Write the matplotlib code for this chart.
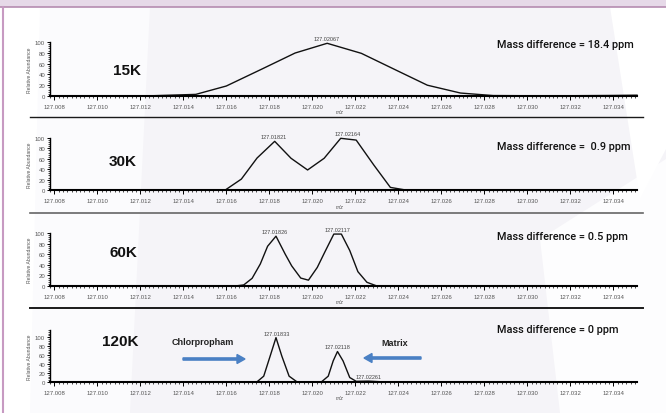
import matplotlib
matplotlib.use("Agg")
import matplotlib.pyplot as plt
from matplotlib.ticker import AutoMinorLocator
from matplotlib.patches import Polygon, FancyArrow
from matplotlib.lines import Line2D

plt.rcParams['font.family'] = ['Liberation Sans', 'DejaVu Sans']

# ---------------- data ----------------
resolutions = ["15K", "30K", "60K", "120K"]
mass_diff = ["Mass difference = 18.4 ppm", "Mass difference =  0.9 ppm",
             "Mass difference = 0.5 ppm", "Mass difference = 0 ppm"]

mz_15k = [127.0078, 127.0100, 127.0120, 127.01258, 127.01458, 127.0160, 127.01766, 127.0192,
          127.02069, 127.02228, 127.02389, 127.02535, 127.02689, 127.02841, 127.0300,
          127.0320, 127.0340, 127.0351]
int_15k = [0.3, 0.3, 0.3, 0.5, 3, 18.5, 50, 79.6, 97.6, 79, 48, 20, 5.5, 0.8, 0.5, 0.5, 1.0, 1.5]

mz_30k = [127.0078, 127.0100, 127.0140, 127.01597, 127.01670, 127.01743, 127.01825, 127.01901,
          127.01978, 127.02055, 127.02132, 127.02204, 127.02286, 127.02363, 127.02427,
          127.0280, 127.0320, 127.0351]
int_30k = [0.3, 0.3, 0.3, 0.5, 21, 61.5, 93.6, 61, 38.5, 61, 99.4, 96, 48, 5, 0.5, 0.5, 0.5, 0.5]

mz_60k = [127.0078, 127.0100, 127.0140, 127.01651, 127.01681, 127.01720, 127.01758, 127.01792,
          127.01831, 127.01874, 127.01904, 127.01946, 127.01982, 127.02023, 127.02058,
          127.02100, 127.02135, 127.02174, 127.02212, 127.02254, 127.02297, 127.0280,
          127.0320, 127.0351]
int_60k = [0.3, 0.3, 0.3, 0.5, 2, 14.5, 41.5, 75, 94, 60, 38, 15, 11, 35, 64, 98, 98, 67,
           27, 7, 0.5, 0.5, 0.5, 0.5]

mz_120k = [127.0078, 127.0100, 127.0140, 127.01743, 127.01774, 127.01804, 127.01831, 127.01858,
           127.01892, 127.01928, 127.02043, 127.02074, 127.02097, 127.02117, 127.02143,
           127.02174, 127.02204, 127.02261, 127.02320, 127.0280, 127.0320, 127.0351]
int_120k = [0.3, 0.3, 0.3, 0.5, 13, 58, 99, 58, 13, 0.5, 0.5, 13, 47, 68, 47, 10, 1.5, 2.0,
            0.5, 0.5, 0.5, 0.5]

peak_labels_15k = [(127.02067, 97.6, "127.02067")]
peak_labels_30k = [(127.01821, 93.6, "127.01821"), (127.02164, 99.4, "127.02164")]
peak_labels_60k = [(127.01826, 94, "127.01826"), (127.02117, 98, "127.02117")]
peak_labels_120k = [(127.01833, 99, "127.01833"), (127.02118, 68, "127.02118"),
                    (127.02261, 2.0, "127.02261")]

x_ticks = [127.008, 127.010, 127.012, 127.014, 127.016, 127.018, 127.020, 127.022,
           127.024, 127.026, 127.028, 127.030, 127.032, 127.034]
y_ticks = [0, 20, 40, 60, 80, 100]

series = [(mz_15k, int_15k, peak_labels_15k), (mz_30k, int_30k, peak_labels_30k),
          (mz_60k, int_60k, peak_labels_60k), (mz_120k, int_120k, peak_labels_120k)]

# ---------------- figure ----------------
W, H = 666, 414
fig = plt.figure(figsize=(W / 100, H / 100), dpi=100)
fig.patch.set_facecolor('#f5f4f8')

def px(x, y):
    return (x / W, 1 - y / H)

def add_poly(pts, color):
    fig.patches.append(Polygon([px(*p) for p in pts], closed=True, transform=fig.transFigure,
                               facecolor=color, edgecolor='none', zorder=-10))

# background decoration
add_poly([(0, 8), (150, 8), (130, 414), (0, 414)], '#fbfbfd')
add_poly([(0, 8), (40, 8), (30, 414), (0, 414)], '#ffffff')
add_poly([(540, 240), (666, 160), (666, 414), (560, 414)], '#fdfdfe')
add_poly([(610, 8), (666, 8), (666, 150), (640, 200)], '#ffffff')
add_poly([(0, 0), (666, 0), (666, 8), (0, 8)], '#e6d9e8')
fig.lines.append(Line2D([0, 1], [1 - 8 / H, 1 - 8 / H], transform=fig.transFigure,
                        color='#b58cb0', lw=1.2, zorder=-5))
fig.lines.append(Line2D([3 / W, 3 / W], [0, 1 - 8 / H], transform=fig.transFigure,
                        color='#c79ac2', lw=1.5, zorder=-5))

# separators
for ysep, col, lw in [(118, '#1a1a1a', 1.0), (214, '#666666', 1.2), (309, '#1a1a1a', 1.4)]:
    fig.lines.append(Line2D([30 / W, 643 / W], [1 - ysep / H, 1 - ysep / H],
                            transform=fig.transFigure, color=col, lw=lw, zorder=-5))

# axes boxes: (top px, bottom px, ylim top)
boxes = [(43, 97, 100), (139, 191, 100), (234, 287, 100), (331, 383, 116)]
res_pos = [(127, 71), (123, 162), (123, 253), (120, 342)]
md_pos = [(497, 45), (497, 147), (497, 237), (497, 330)]
mz_label_y = [112, 208, 303, 399]

x0, x1 = 50, 637
for i, ((top, bot, ytop), (mz, inten, labels)) in enumerate(zip(boxes, series)):
    ax = fig.add_axes([x0 / W, 1 - bot / H, (x1 - x0) / W, (bot - top) / H])
    ax.set_facecolor('none')
    ax.plot(mz, inten, color='#111111', lw=1.0, clip_on=False)
    ax.set_xlim(127.0078, 127.0351)
    ax.set_ylim(0, ytop)
    for s in ['top', 'right']:
        ax.spines[s].set_visible(False)
    ax.spines['bottom'].set_linewidth(1.5)
    ax.spines['left'].set_linewidth(1.0)
    ax.set_xticks(x_ticks)
    ax.set_xticklabels([f"{v:.3f}" for v in x_ticks])
    ax.xaxis.set_minor_locator(AutoMinorLocator(10))
    ax.set_yticks(y_ticks)
    ax.yaxis.set_minor_locator(AutoMinorLocator(5))
    ax.tick_params(axis='x', which='major', length=3, width=0.7, labelsize=4.3,
                   labelcolor='#555555', pad=2.5)
    ax.tick_params(axis='x', which='minor', length=1.5, width=0.5)
    ax.tick_params(axis='y', which='major', length=2.5, width=0.7, labelsize=4.3,
                   labelcolor='#555555', pad=1)
    ax.tick_params(axis='y', which='minor', length=1.5, width=0.5)
    ax.set_ylabel("Relative Abundance", fontsize=3.6, color='#555555', labelpad=2)
    for (xm, yi, txt) in labels:
        ax.annotate(txt, (xm, yi), xytext=(0, 1.5), textcoords='offset points',
                    ha='center', va='bottom', fontsize=4, color='#444444',
                    annotation_clip=False)
    fig.text(*px(340, mz_label_y[i]), "m/z", fontsize=3.5, style='italic',
             color='#444444', ha='center', va='center')
    fig.text(*px(*res_pos[i]), resolutions[i], fontsize=11, fontweight='bold',
             family=['Liberation Sans Narrow', 'Liberation Sans'],
             ha='center', va='center', color='#111111')
    fig.text(*px(*md_pos[i]), mass_diff[i], fontsize=7.85, fontweight='medium',
             family=['Roboto', 'Liberation Sans'], ha='left', va='center',
             color='#111111')

# arrows and annotations (panel 4)
fig.text(*px(203, 343), "Chlorpropham", fontsize=6.5, fontweight='bold', ha='center',
         va='center', color='#222222', family=['Liberation Sans Narrow', 'Liberation Sans'])
fig.text(*px(395, 344), "Matrix", fontsize=6.5, fontweight='bold', ha='center',
         va='center', color='#222222', family=['Liberation Sans Narrow', 'Liberation Sans'])
fig.patches.append(FancyArrow(183 / W, 1 - 360 / H, 62 / W, 0, width=2.2 / H,
                              head_width=9 / H, head_length=8 / W,
                              length_includes_head=True, transform=fig.transFigure,
                              color='#4a80c4'))
fig.patches.append(FancyArrow(421 / W, 1 - 359 / H, -57 / W, 0, width=2.2 / H,
                              head_width=9 / H, head_length=8 / W,
                              length_includes_head=True, transform=fig.transFigure,
                              color='#4a80c4'))

fig.savefig("out.png", dpi=100, facecolor=fig.get_facecolor())
